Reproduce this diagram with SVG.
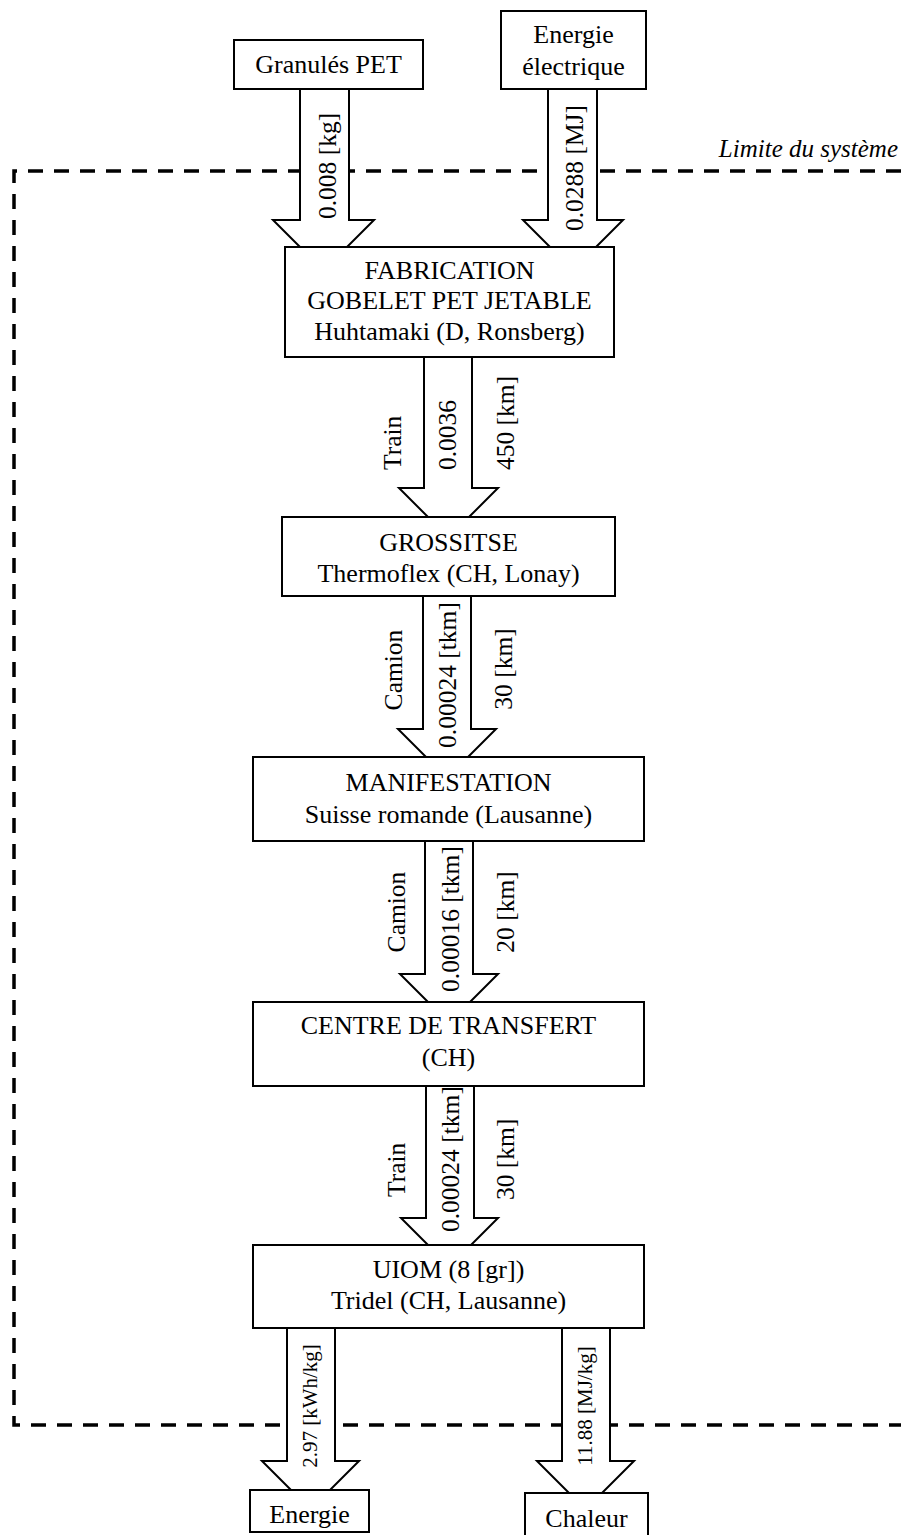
<svg xmlns="http://www.w3.org/2000/svg" width="901" height="1535" viewBox="0 0 901 1535">
<style>
.box{fill:#fff;stroke:#000;stroke-width:2}
.arr{fill:#fff;stroke:#000;stroke-width:2;stroke-linejoin:miter}
.t{font-family:"Liberation Serif","Times New Roman",serif;font-size:26px;fill:#000;text-anchor:middle}
.r{font-family:"Liberation Serif","Times New Roman",serif;font-size:25.5px;fill:#000;dominant-baseline:central}
.m{text-anchor:middle}
.s{text-anchor:start}
.sm{font-size:21px}
.lim{fill:none;stroke:#000;stroke-width:3.5;stroke-dasharray:15 11}
</style>
<g id="boundary">
<path class="lim" d="M901 171 H14 V1425 H901"/>
<text x="898" y="157" style="font-family:'Liberation Serif',serif;font-style:italic;font-size:25px;text-anchor:end">Limite du système</text>
</g>
<g id="connectors">
<polygon class="arr" points="300,89 300,220 273,220 300,247 347,247 374,220 349,220 349,89"/>
<polygon class="arr" points="548,89 548,220 523,220 550,247 596,247 623,220 597,220 597,89"/>
<polygon class="arr" points="424,357 424,488 399,488 428,517 469,517 498,488 472,488 472,357"/>
<polygon class="arr" points="423,596 423,729 398,729 426,757 468,757 496,729 471,729 471,596"/>
<polygon class="arr" points="425,841 425,974 400,974 428,1002 470,1002 498,974 473,974 473,841"/>
<polygon class="arr" points="426,1086 426,1218 401,1218 428,1245 471,1245 498,1218 474,1218 474,1086"/>
<polygon class="arr" points="287,1328 287,1461 262,1461 291,1490 330,1490 359,1461 335,1461 335,1328"/>
<polygon class="arr" points="562,1328 562,1461 537,1461 569,1493 602,1493 634,1461 610,1461 610,1328"/>
<text class="r m" transform="translate(327,166) rotate(-90)">0.008 [kg]</text>
<text class="r m" transform="translate(574,168) rotate(-90)">0.0288 [MJ]</text>
<text class="r s" transform="translate(392,470) rotate(-90)">Train</text>
<text class="r s" transform="translate(447,470) rotate(-90)">0.0036</text>
<text class="r s" transform="translate(505,470) rotate(-90)">450 [km]</text>
<text class="r m" transform="translate(393,670) rotate(-90)">Camion</text>
<text class="r m" transform="translate(447,675) rotate(-90)">0.00024 [tkm]</text>
<text class="r m" transform="translate(503,669) rotate(-90)">30 [km]</text>
<text class="r m" transform="translate(396,912) rotate(-90)">Camion</text>
<text class="r m" transform="translate(450,919) rotate(-90)">0.00016 [tkm]</text>
<text class="r m" transform="translate(505,912) rotate(-90)">20 [km]</text>
<text class="r s" transform="translate(396,1197) rotate(-90)">Train</text>
<text class="r s" transform="translate(450,1232) rotate(-90)">0.00024 [tkm]</text>
<text class="r s" transform="translate(505,1200) rotate(-90)">30 [km]</text>
<text class="r m sm" transform="translate(310,1406) rotate(-90)">2.97 [kWh/kg]</text>
<text class="r m sm" transform="translate(585,1406) rotate(-90)">11.88 [MJ/kg]</text>
</g>
<g id="granules">
<rect class="box" x="234" y="40" width="189" height="49"/>
<text class="t" x="328.5" y="73">Granulés PET</text>
</g>
<g id="energie-electrique">
<rect class="box" x="501" y="11" width="145" height="78"/>
<text class="t" x="573.5" y="43">Energie</text>
<text class="t" x="573.5" y="75">électrique</text>
</g>
<g id="fabrication">
<rect class="box" x="285" y="247" width="329" height="110"/>
<text class="t" x="449.5" y="279">FABRICATION</text>
<text class="t" x="449.5" y="309">GOBELET PET JETABLE</text>
<text class="t" x="449.5" y="340">Huhtamaki (D, Ronsberg)</text>
</g>
<g id="grossitse">
<rect class="box" x="282" y="517" width="333" height="79"/>
<text class="t" x="448.5" y="551">GROSSITSE</text>
<text class="t" x="448.5" y="582">Thermoflex (CH, Lonay)</text>
</g>
<g id="manifestation">
<rect class="box" x="253" y="757" width="391" height="84"/>
<text class="t" x="448.5" y="791">MANIFESTATION</text>
<text class="t" x="448.5" y="823">Suisse romande (Lausanne)</text>
</g>
<g id="centre-transfert">
<rect class="box" x="253" y="1002" width="391" height="84"/>
<text class="t" x="448.5" y="1034">CENTRE DE TRANSFERT</text>
<text class="t" x="448.5" y="1066">(CH)</text>
</g>
<g id="uiom">
<rect class="box" x="253" y="1245" width="391" height="83"/>
<text class="t" x="448.5" y="1278">UIOM (8 [gr])</text>
<text class="t" x="448.5" y="1309">Tridel (CH, Lausanne)</text>
</g>
<g id="energie">
<rect class="box" x="250" y="1490" width="119" height="42"/>
<text class="t" x="309.5" y="1523">Energie</text>
</g>
<g id="chaleur">
<rect class="box" x="525" y="1493" width="123" height="44"/>
<text class="t" x="586.5" y="1527">Chaleur</text>
</g>
</svg>
